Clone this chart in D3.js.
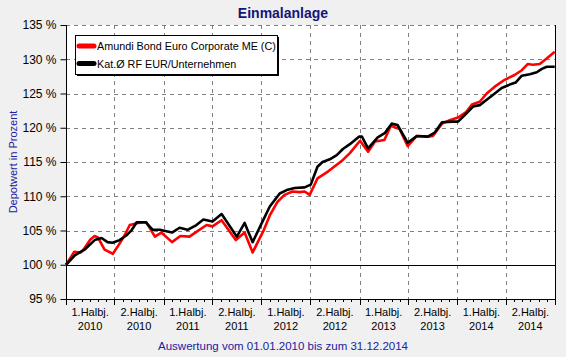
<!DOCTYPE html>
<html><head><meta charset="utf-8">
<script src="https://cdn.jsdelivr.net/npm/d3@7"></script>
<style>body{margin:0;background:#f0f0f0;}svg{display:block;}</style>
</head><body><svg id="c" width="566" height="357"></svg>
<script>
const seriesNames = ["Amundi Bond Euro Corporate ME (C)", "Kat.Ø RF EUR/Unternehmen"];
const seriesColors = ["#ff0000", "#000000"];
const redDates = ["2010-01-01","2010-02-01","2010-02-25","2010-03-07","2010-04-02","2010-04-18","2010-04-30","2010-05-25","2010-06-25","2010-07-17","2010-08-08","2010-08-27","2010-09-27","2010-10-28","2010-11-29","2010-12-23","2011-02-01","2011-03-04","2011-04-07","2011-05-03","2011-06-10","2011-07-02","2011-08-05","2011-09-27","2011-10-30","2011-11-29","2012-01-10","2012-02-01","2012-03-01","2012-03-27","2012-04-26","2012-05-22","2012-06-10","2012-06-29","2012-07-28","2012-09-05","2012-10-08","2012-10-31","2012-11-26","2013-01-03","2013-02-02","2013-02-28","2013-04-04","2013-04-28","2013-05-31","2013-06-30","2013-08-03","2013-09-13","2013-10-02","2013-11-05","2013-12-04","2014-01-04","2014-02-03","2014-02-25","2014-03-26","2014-04-21","2014-05-21","2014-06-27","2014-08-03","2014-08-30","2014-09-21","2014-10-10","2014-11-05","2014-12-01","2014-12-31"];
const redValues = [100,101.9,101.8,102.2,103.7,104.2,104.0,102.2,101.6,102.9,104.3,105.8,106.1,106.2,104.1,104.7,103.3,104.2,104.1,104.8,105.8,105.6,106.5,103.6,104.7,101.8,105.1,107.2,109.2,110.2,110.7,110.6,110.7,110.2,112.6,113.6,114.6,115.3,116.3,118.1,116.5,118.0,118.2,120.3,119.8,117.3,118.8,118.7,118.8,120.6,121.1,121.5,122.3,123.4,123.8,125.0,126.0,127.0,127.7,128.4,129.3,129.2,129.3,130.1,131.1];
const blackDates = ["2010-01-01","2010-02-04","2010-03-11","2010-04-18","2010-05-14","2010-06-05","2010-06-24","2010-07-20","2010-08-15","2010-09-04","2010-09-22","2010-10-26","2010-11-21","2010-12-17","2011-02-01","2011-03-01","2011-03-31","2011-05-03","2011-05-29","2011-07-02","2011-08-05","2011-10-01","2011-10-30","2011-11-29","2012-01-06","2012-02-01","2012-03-09","2012-04-04","2012-05-04","2012-06-10","2012-07-03","2012-07-28","2012-08-16","2012-09-12","2012-10-08","2012-10-31","2012-11-26","2012-12-30","2013-01-10","2013-02-02","2013-03-10","2013-04-05","2013-05-01","2013-05-23","2013-06-30","2013-08-03","2013-09-13","2013-10-09","2013-11-05","2013-12-16","2014-01-04","2014-01-30","2014-03-01","2014-03-26","2014-04-21","2014-05-21","2014-06-16","2014-07-16","2014-08-07","2014-08-30","2014-09-29","2014-10-25","2014-11-13","2014-12-01","2014-12-31"];
const blackValues = [100,101.4,102.2,103.6,103.9,103.3,103.2,103.6,104.3,105.1,106.2,106.2,105.1,105.1,104.7,105.4,105.1,105.8,106.6,106.3,107.4,104.1,106.1,103.3,106.4,108.5,110.4,110.9,111.2,111.3,111.7,114.3,115.0,115.4,116.0,116.9,117.6,118.7,118.7,117.0,118.6,119.2,120.6,120.4,117.8,118.8,118.7,119.3,120.8,120.9,120.9,121.9,123.1,123.3,124.1,125.0,125.8,126.3,126.6,127.6,127.8,128.1,128.6,128.9,128.9];
const yTicks = [95,100,105,110,115,120,125,130,135];
const halfYearLabels = [["1.Halbj.","2010"],["2.Halbj.","2010"],["1.Halbj.","2011"],["2.Halbj.","2011"],["1.Halbj.","2012"],["2.Halbj.","2012"],["1.Halbj.","2013"],["2.Halbj.","2013"],["1.Halbj.","2014"],["2.Halbj.","2014"]];
const title = "Einmalanlage";
const yTitle = "Depotwert in Prozent";
const footer = "Auswertung vom 01.01.2010 bis zum 31.12.2014";

const parse = d3.timeParse("%Y-%m-%d");
const svg = d3.select("#c");
const L = 66, R = 555, T = 25, B = 299;
const font = "'Liberation Sans', Arial, sans-serif";
const x = d3.scaleTime().domain([parse("2010-01-01"), parse("2015-01-01")]).range([L, R]);
const y = d3.scaleLinear().domain([95, 135]).range([B, T]);

svg.append("rect").attr("x",L).attr("y",T).attr("width",R-L).attr("height",B-T).attr("fill","#fff");

// horizontal grid
svg.append("g").selectAll("line").data(yTicks.filter(v=>v!==100 && v!==95)).join("line")
  .attr("x1",L).attr("x2",R).attr("y1",d=>Math.round(y(d))+0.5).attr("y2",d=>Math.round(y(d))+0.5)
  .attr("stroke","#808080").attr("stroke-dasharray","4,4");
// vertical grid
const halfYears = d3.timeMonth.every(6).range(parse("2010-07-01"), parse("2015-01-01"));
svg.append("g").selectAll("line").data(halfYears).join("line")
  .attr("x1",d=>Math.round(x(d))+0.5).attr("x2",d=>Math.round(x(d))+0.5).attr("y1",T).attr("y2",B)
  .attr("stroke","#808080").attr("stroke-dasharray","4,4");
// 100% line
svg.append("line").attr("x1",L).attr("x2",R).attr("y1",Math.round(y(100))+0.5).attr("y2",Math.round(y(100))+0.5).attr("stroke","#000");

// y axis
const yAxis = d3.axisLeft(y).tickValues(yTicks).tickSize(6).tickPadding(4).tickFormat(d=>d+" %");
const yg = svg.append("g").attr("transform",`translate(${L+0.5},0)`).call(yAxis);
yg.select(".domain").remove();
yg.selectAll("text").attr("font-family",font).attr("font-size","12px").attr("fill","#000");
yg.selectAll("line").attr("stroke","#000");

// x axis minor/major ticks
const months = d3.timeMonth.range(parse("2010-01-01"), parse("2015-01-02"));
svg.append("g").selectAll("line").data(months).join("line")
  .attr("x1",d=>Math.round(x(d))+0.5).attr("x2",d=>Math.round(x(d))+0.5)
  .attr("y1",B).attr("y2",d=>B + (d.getMonth()%6===0 ? 6 : 3)).attr("stroke","#000");

// frame
svg.append("path").attr("d",`M${L+0.5},${T}V${B+0.5}H${R+0.5}V${T}`).attr("fill","none").attr("stroke","#000");

// x labels
const starts = d3.timeMonth.every(6).range(parse("2010-01-01"), parse("2015-01-01"));
const lg = svg.append("g").attr("font-family",font).attr("font-size","11px").attr("fill","#000").attr("text-anchor","middle");
starts.forEach((s,i)=>{
  const mid = x(d3.timeMonth.offset(s,3));
  lg.append("text").attr("x",mid).attr("y",316).text(halfYearLabels[i][0]);
  lg.append("text").attr("x",mid).attr("y",330).text(halfYearLabels[i][1]);
});

// lines
const line = d3.line().x(d=>x(d[0])).y(d=>y(d[1]));
const redData = redDates.map((d,i)=>[parse(d), redValues[i]]);
const blackData = blackDates.map((d,i)=>[parse(d), blackValues[i]]);
[redData, blackData].forEach((data,i)=>{
  svg.append("path").datum(data).attr("d",line).attr("fill","none").attr("stroke",seriesColors[i])
    .attr("stroke-width",2.6).attr("stroke-linejoin","round");
});

// legend
const lgx = 75, lgy = 35, lgw = 202, lgh = 39;
svg.append("rect").attr("x",lgx+2).attr("y",lgy+2).attr("width",lgw).attr("height",lgh).attr("fill","#000");
svg.append("rect").attr("x",lgx+0.5).attr("y",lgy+0.5).attr("width",lgw).attr("height",lgh).attr("fill","#fff").attr("stroke","#000");
seriesNames.forEach((n,i)=>{
  const yy = 46 + i*17.5;
  svg.append("line").attr("x1",79).attr("x2",94).attr("y1",yy).attr("y2",yy).attr("stroke",seriesColors[i])
    .attr("stroke-width",5).attr("stroke-linecap","round");
  svg.append("text").attr("x",97).attr("y",yy+4).attr("font-family",font).attr("font-size","10.8px").attr("fill","#000").text(n);
});

// titles
svg.append("text").attr("x",283).attr("y",18).attr("text-anchor","middle").attr("font-family",font)
  .attr("font-size","14px").attr("font-weight","bold").attr("fill","#14147d").text(title);
svg.append("text").attr("transform","translate(17,162) rotate(-90)").attr("text-anchor","middle").attr("font-family",font)
  .attr("font-size","11px").attr("fill","#2020a0").text(yTitle);
svg.append("text").attr("x",283).attr("y",350).attr("text-anchor","middle").attr("font-family",font)
  .attr("font-size","11.5px").attr("fill","#2020a0").text(footer);
</script></body></html>
